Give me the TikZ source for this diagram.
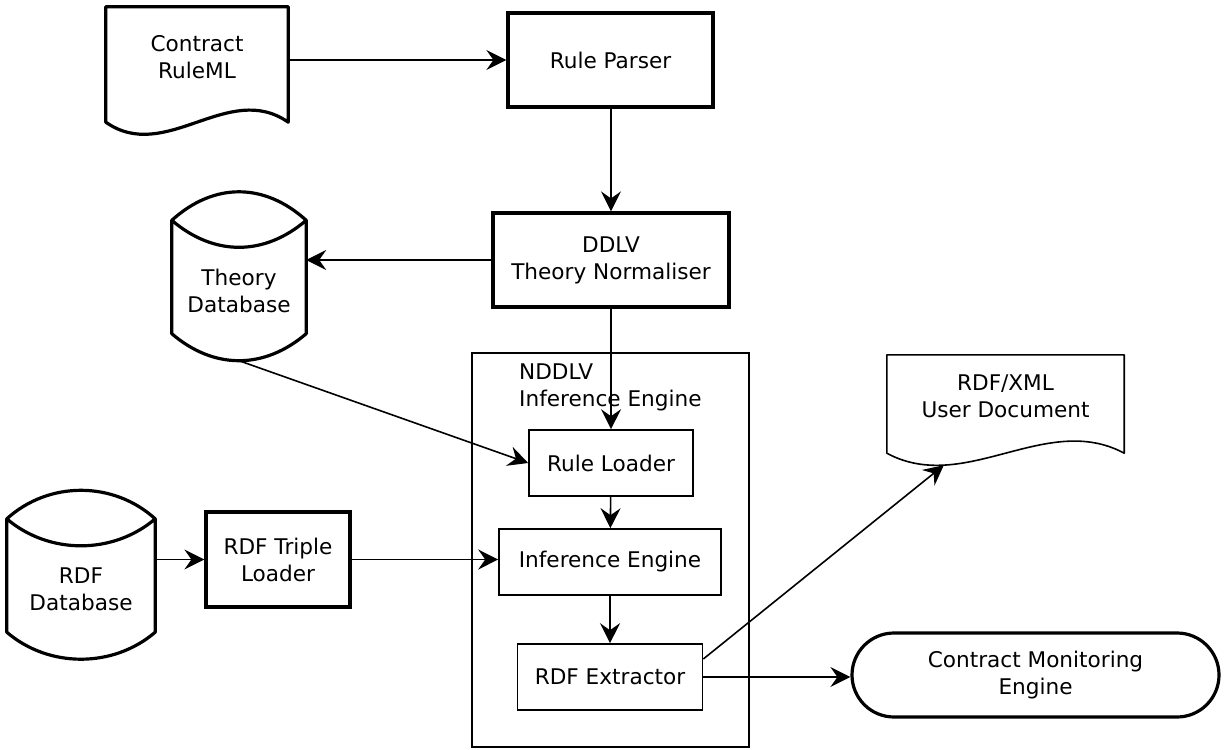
\documentclass[tikz,border=0pt]{standalone}
\usepackage{fontspec}
\setmainfont{DejaVu Sans}
\usetikzlibrary{arrows.meta,calc,positioning,shapes.misc}

\tikzset{
  every node/.style={font=\fontsize{21.6}{27}\selectfont, align=center, inner sep=0pt},
  heavy/.style={draw, line width=3.2pt},
  light/.style={draw, line width=1.6pt},
  flow/.style={-{Stealth[length=20pt,width=20pt,inset=7pt]}, line width=1.6pt},
}

% cylinder round a node: name, line width
\newcommand{\dbshape}[2]{%
  \draw[line width=#2, line join=round]
    ($(#1.north west)+(0,-27)$) -- (#1.south west)
      .. controls +(42,36) and +(-42,36) .. (#1.south east)
      -- ($(#1.north east)+(0,-27)$)
      .. controls +(-42,-38) and +(42,-38) .. ($(#1.north west)+(0,-27)$)
      .. controls +(42,36) and +(-42,36) .. ($(#1.north east)+(0,-27)$);
}
% paper sheet round a node: name, line width, wave spread
\newcommand{\docshape}[3]{%
  \draw[line width=#2, line join=round]
    ($(#1.south west)+(0,15)$) -- (#1.north west) -- (#1.north east)
      -- ($(#1.south east)+(0,15)$)
      .. controls +(-#3,-42) and +(#3,42) .. cycle;
}

\begin{document}
\begin{tikzpicture}[x=1pt,y=-1pt]
  \useasboundingbox (0,0) rectangle (1225,749);

  % inputs
  \node[minimum width=182pt, minimum height=100pt] (ruleml) at (197,57) {Contract\\RuleML};
  \docshape{ruleml}{3.2pt}{60}
  \node[heavy, minimum width=205pt, minimum height=94pt] (parser) at (610.5,60) {Rule Parser};
  \node[heavy, minimum width=236pt, minimum height=94pt] (normaliser) at (611,260) {DDLV\\Theory Normaliser};
  \node[minimum width=134pt, minimum height=86pt] (theorydb) at (239,290.5) {Theory\\Database};
  \dbshape{theorydb}{3.2pt}
  \node[minimum width=148pt, minimum height=86pt] (rdfdb) at (81,589) {RDF\\Database};
  \dbshape{rdfdb}{3.2pt}
  \node[heavy, minimum width=144pt, minimum height=95pt] (triples) at (278,559.5) {RDF Triple\\Loader};

  % engine
  \node[light, minimum width=277pt, minimum height=394pt] (engine) at (610.5,550) {};
  \node[anchor=west, align=left] (enginelabel) at (519,387.5) {NDDLV\\Inference Engine};
  \node[light, minimum width=164pt, minimum height=66pt] (ruleloader) at (611,463) {Rule Loader};
  \node[light, minimum width=222pt, minimum height=66pt] (inference) at (610,562) {Inference Engine};
  \node[light, minimum width=185pt, minimum height=66pt] (extractor) at (610,677) {RDF Extractor};

  % outputs
  \node[minimum width=237pt, minimum height=83pt] (userdoc) at (1005.5,396.5) {RDF/XML\\User Document};
  \docshape{userdoc}{1.6pt}{78}
  \coordinate (docin) at ($(userdoc.south west)+(57,27)$);
  \node[heavy, rounded rectangle, minimum width=367pt, minimum height=84pt] (monitor) at (1035.5,675) {Contract Monitoring\\Engine};

  \draw[flow] (ruleml.east |- parser) -- (parser);
  \draw[flow] (parser.south -| normaliser) -- (normaliser);
  \draw[flow] (normaliser.west) -- (normaliser.west -| theorydb.east);
  \draw[flow] (normaliser) -- (ruleloader);
  \draw[flow] ([yshift=-27pt]theorydb.south) -- (ruleloader.west);
  \draw[flow] (ruleloader) -- (inference);
  \draw[flow] (inference) -- (extractor);
  \draw[flow] (triples.west -| rdfdb.east) -- (triples);
  \draw[flow] (triples.east) -- (triples.east -| inference.west);
  \draw[flow] ([yshift=18pt]extractor.east) -- (docin);
  \draw[flow] (extractor.east) -- (extractor.east -| monitor.west);
\end{tikzpicture}
\end{document}
